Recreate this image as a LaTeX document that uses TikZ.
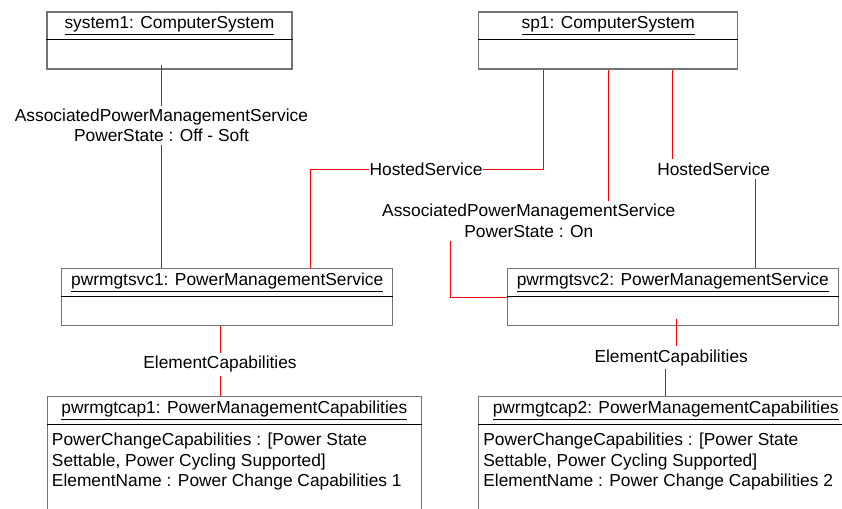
\documentclass[tikz,border=0pt]{standalone}
\usepackage{fontspec}
\setmainfont{Liberation Sans}
\usepackage{xcolor}
\usepackage{tikz}
\usetikzlibrary{positioning}

\begin{document}
\begin{tikzpicture}[x=1pt, y=-1pt, font=\fontsize{17.35pt}{20.5pt}\selectfont]
\tikzstyle{objbox} = [rectangle, draw=black!55, line width=1.1pt, minimum height=57pt, inner sep=0pt]
\tikzstyle{objname} = [rectangle, minimum height=28pt, inner sep=0pt]
\tikzstyle{divider} = [line width=0.8pt, draw=black]
\tikzstyle{attrtext} = [anchor=north west, inner sep=0pt, align=left]
\tikzstyle{assoc} = [draw=red, line width=0.8pt]
\tikzstyle{assoclabel} = [inner xsep=0pt, inner ysep=3pt, align=center]

\useasboundingbox (0,0) rectangle (842,508);
\clip (0,0) rectangle (842,508);

% computer systems
\node (sys1) [objbox, minimum width=245pt] at (169.5,40.5) {};
\node (sys1n) [objname, below=0pt of sys1.north] {\underline{system1: ComputerSystem}};
\draw [divider] (sys1.west |- sys1n.south) -- (sys1.east |- sys1n.south);

\node (sp1) [objbox, minimum width=259pt] at (608.2,40.5) {};
\node (sp1n) [objname, below=0pt of sp1.north] {\underline{sp1: ComputerSystem}};
\draw [divider] (sp1.west |- sp1n.south) -- (sp1.east |- sp1n.south);

% power management services
\node (svc1) [objbox, minimum width=331pt] at (227.2,297.3) {};
\node (svc1n) [objname, below=0pt of svc1.north] {\underline{pwrmgtsvc1: PowerManagementService}};
\draw [divider] (svc1.west |- svc1n.south) -- (svc1.east |- svc1n.south);

\node (svc2) [objbox, minimum width=331pt] at (672.8,297.3) {};
\node (svc2n) [objname, below=0pt of svc2.north] {\underline{pwrmgtsvc2: PowerManagementService}};
\draw [divider] (svc2.west |- svc2n.south) -- (svc2.east |- svc2n.south);

% capabilities
\node (cap1) [objbox, minimum width=374pt, minimum height=143pt] at (234.3,468.2) {};
\node (cap1n) [objname, below=0pt of cap1.north] {\underline{pwrmgtcap1: PowerManagementCapabilities}};
\draw [divider] (cap1.west |- cap1n.south) -- (cap1.east |- cap1n.south);
\node (cap1a) [attrtext] at ([xshift=5pt, yshift=-8.4pt]cap1.west |- cap1n.south) {PowerChangeCapabilities : [Power State\\Settable, Power Cycling Supported]\\ElementName : Power Change Capabilities 1};

\node (cap2) [objbox, minimum width=374pt, minimum height=143pt] at (665.7,468.2) {};
\node (cap2n) [objname, below=0pt of cap2.north] {\underline{pwrmgtcap2: PowerManagementCapabilities}};
\draw [divider] (cap2.west |- cap2n.south) -- (cap2.east |- cap2n.south);
\node (cap2a) [attrtext] at ([xshift=5pt, yshift=-8.4pt]cap2.west |- cap2n.south) {PowerChangeCapabilities : [Power State\\Settable, Power Cycling Supported]\\ElementName : Power Change Capabilities 2};

% association labels
\node (apms1) [assoclabel] at (161.5,125.5) {AssociatedPowerManagementService\\PowerState : Off - Soft};
\node (hs1)   [assoclabel] at (426,169) {HostedService};
\node (apms2) [assoclabel] at (528.8,221) {AssociatedPowerManagementService\\PowerState : On};
\node (hs2)   [assoclabel] at (713.7,169) {HostedService};
\node (ec1)   [assoclabel] at (220,364.3) {ElementCapabilities};
\node (ec2)   [assoclabel] at (671.2,357.7) {ElementCapabilities};

% associations
\draw [assoc] ([xshift=-8pt, yshift=5pt]sys1.south) -- (apms1) -- (apms1 |- svc1.north);
\draw [assoc] ([xshift=-64.5pt]sp1.south) |- (hs1) -| ([xshift=82.8pt]svc1.north);
\draw [assoc] (sp1.south) -- (sp1.south |- apms2.north) ([xshift=-78.8pt]apms2.south) |- (svc2.west);
\draw [assoc] ([xshift=64.5pt]sp1.south) -- ([xshift=64.5pt]sp1.south |- hs2.north) ([xshift=42pt]hs2.south) -- ([xshift=42pt]hs2.south |- svc2.north);
\draw [assoc] (svc1.south -| ec1) -- (ec1) -- (ec1 |- cap1.north);
\draw [assoc] ([xshift=3.5pt, yshift=7.7pt]svc2.south) -- ([xshift=3.5pt]svc2.south |- ec2.north) ([xshift=-5.5pt]ec2.south) -- ([xshift=-5.5pt]ec2.south |- cap2.north);

\end{tikzpicture}
\end{document}
